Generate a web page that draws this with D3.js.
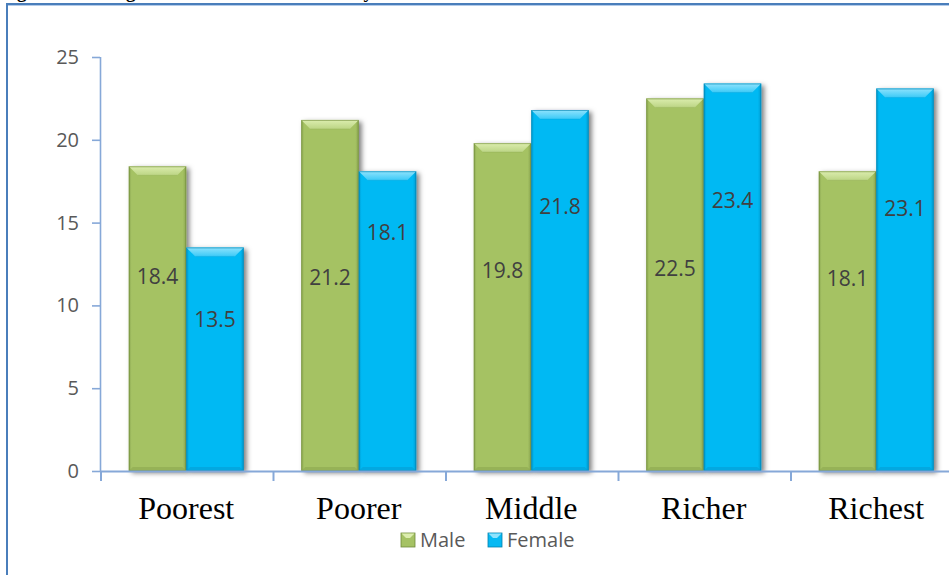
<!DOCTYPE html>
<html>
<head>
<meta charset="utf-8">
<script src="https://cdn.jsdelivr.net/npm/d3@7/dist/d3.min.js"></script>
<style>
  html, body { margin: 0; padding: 0; background: #fff; overflow: hidden; }
  svg { display: block; }
</style>
</head>
<body>
<svg id="chart" width="949" height="575"></svg>
<script>
// Wealth quintiles and values by sex
const categories = ["Poorest", "Poorer", "Middle", "Richer", "Richest"];
const seriesNames = ["Male", "Female"];
const maleValues = [18.4, 21.2, 19.8, 22.5, 18.1];
const femaleValues = [13.5, 18.1, 21.8, 23.4, 23.1];
const yTicks = [0, 5, 10, 15, 20, 25];
// Height (in value units) at which each data label sits inside its bar
const maleLabelAt = [11.75, 11.71, 12.14, 12.26, 11.65];
const femaleLabelAt = [9.15, 14.43, 16.0, 16.36, 15.88];

const titleText = "Figure 2: Average test scores of adolescents by wealth status";

const colors = {
  Male:   { base: "#a5c264", top1: "#dcedae", top2: "#bcd585", dark: "#8aa64e", edge: "#6f8a3a" },
  Female: { base: "#06b9f3", top1: "#8fe3fd", top2: "#3ccaf7", dark: "#059bd0", edge: "#0481ad" }
};

const svg = d3.select("#chart");
const defs = svg.append("defs");

const shadow = defs.append("filter").attr("id", "barShadow")
  .attr("x", "-20%").attr("y", "-10%").attr("width", "160%").attr("height", "130%");
shadow.append("feDropShadow")
  .attr("dx", 3).attr("dy", 2).attr("stdDeviation", 2.8)
  .attr("flood-color", "#000").attr("flood-opacity", 0.5);

seriesNames.forEach(s => {
  const g = defs.append("linearGradient").attr("id", "top-" + s)
    .attr("x1", 0).attr("y1", 0).attr("x2", 0).attr("y2", 1);
  g.append("stop").attr("offset", "0%").attr("stop-color", colors[s].top1);
  g.append("stop").attr("offset", "100%").attr("stop-color", colors[s].top2);
  const body = defs.append("linearGradient").attr("id", "body-" + s)
    .attr("x1", 0).attr("y1", 0).attr("x2", 1).attr("y2", 0);
  body.append("stop").attr("offset", "0%").attr("stop-color", colors[s].dark);
  body.append("stop").attr("offset", "5%").attr("stop-color", colors[s].base);
  body.append("stop").attr("offset", "94%").attr("stop-color", colors[s].base);
  body.append("stop").attr("offset", "100%").attr("stop-color", colors[s].dark);
});

// Title (sits above the visible area, only descenders peek through)
svg.append("text")
  .attr("x", 0).attr("y", -2.5)
  .attr("font-family", "'Liberation Serif', 'Times New Roman', serif")
  .attr("font-weight", "bold").attr("font-size", 19)
  .attr("fill", "#000")
  .text(titleText);

// Frame
svg.append("line").attr("x1", 6).attr("x2", 949).attr("y1", 4).attr("y2", 4)
  .attr("stroke", "#4a7ebb").attr("stroke-width", 2);
svg.append("line").attr("x1", 7).attr("x2", 949).attr("y1", 5.5).attr("y2", 5.5)
  .attr("stroke", "#b3cbe9").attr("stroke-width", 1);
svg.append("line").attr("x1", 7).attr("x2", 7).attr("y1", 3).attr("y2", 575)
  .attr("stroke", "#4a7ebb").attr("stroke-width", 2);

const margin = { left: 100, top: 57, bottom: 471 };
const bandStep = 172.5;
const x = d3.scaleBand().domain(categories)
  .range([margin.left, margin.left + bandStep * categories.length])
  .padding(0);
const xInner = d3.scaleBand().domain(seriesNames)
  .range([x.bandwidth() / 6, x.bandwidth() * 5 / 6]).padding(0);
const y = d3.scaleLinear().domain([0, 25]).range([margin.bottom, margin.top]);

const axisColor = "#86a8d8";
const sansFont = "'Open Sans', 'Liberation Sans', sans-serif";

// Y axis
const yAxis = svg.append("g").attr("transform", `translate(${margin.left},0)`)
  .call(d3.axisLeft(y).tickValues(yTicks).tickSize(8).tickPadding(13));
yAxis.select(".domain").attr("stroke", axisColor).attr("stroke-width", 1.6)
  .attr("d", `M0.5,${y(25)}V${y(0)}`);
yAxis.selectAll(".tick line").attr("stroke", axisColor).attr("stroke-width", 1.6);
yAxis.selectAll(".tick text")
  .attr("fill", "#595959").attr("font-family", sansFont).attr("font-size", 20);

// Bars
const data = categories.map((c, i) => ({
  category: c,
  values: [
    { series: "Male", value: maleValues[i], labelAt: maleLabelAt[i] },
    { series: "Female", value: femaleValues[i], labelAt: femaleLabelAt[i] }
  ]
}));

const groups = svg.append("g").selectAll("g").data(data).join("g")
  .attr("transform", d => `translate(${x(d.category)},0)`);

const bars = groups.selectAll("g.bar").data(d => d.values).join("g").attr("class", "bar");

bars.each(function(d) {
  const g = d3.select(this);
  const x0 = xInner(d.series), w = xInner.bandwidth();
  const x1 = x0 + w;
  const y0 = y(d.value), y1 = y(0);
  const c = colors[d.series];
  const b = 9;
  g.append("rect")
    .attr("x", x0).attr("y", y0).attr("width", w).attr("height", y1 - y0)
    .attr("fill", `url(#body-${d.series})`)
    .attr("filter", "url(#barShadow)");
  // top bevel
  g.append("path")
    .attr("d", `M${x0},${y0}L${x1},${y0}L${x1 - b},${y0 + b}L${x0 + b},${y0 + b}Z`)
    .attr("fill", `url(#top-${d.series})`);
  g.append("line")
    .attr("x1", x0 + b).attr("x2", x1 - b).attr("y1", y0 + b).attr("y2", y0 + b)
    .attr("stroke", c.dark).attr("stroke-opacity", 0.3).attr("stroke-width", 1);
  // bottom bevel
  g.append("path")
    .attr("d", `M${x0},${y1}L${x1},${y1}L${x1 - 4},${y1 - 4}L${x0 + 4},${y1 - 4}Z`)
    .attr("fill", c.dark).attr("fill-opacity", 0.55);
  // outline
  g.append("rect")
    .attr("x", x0 + 0.5).attr("y", y0 + 0.5).attr("width", w - 1).attr("height", y1 - y0 - 1)
    .attr("fill", "none").attr("stroke", c.edge).attr("stroke-opacity", 0.6).attr("stroke-width", 1);
  // value label
  g.append("text")
    .attr("x", x0 + w / 2).attr("y", y(d.labelAt))
    .attr("text-anchor", "middle").attr("dominant-baseline", "central")
    .attr("font-family", sansFont).attr("font-size", 21)
    .attr("fill", "#404040")
    .text(d3.format(".1f")(d.value));
});

// X axis
const xAxis = svg.append("g").attr("transform", `translate(0,${margin.bottom})`)
  .call(d3.axisBottom(x).tickSize(0).tickPadding(0).tickFormat(""));
xAxis.select(".domain").attr("stroke", axisColor).attr("stroke-width", 2)
  .attr("d", `M${margin.left},0.5H949`);
xAxis.selectAll(".tick").remove();
const bounds = d3.range(categories.length + 1).map(i => margin.left + i * x.step());
xAxis.selectAll("line.sep").data(bounds).join("line").attr("class", "sep")
  .attr("x1", d => d + 1).attr("x2", d => d + 1).attr("y1", 0).attr("y2", 10)
  .attr("stroke", axisColor).attr("stroke-width", 2);
xAxis.selectAll("text.cat").data(categories).join("text").attr("class", "cat")
  .attr("x", d => x(d) + x.bandwidth() / 2).attr("y", 48)
  .attr("text-anchor", "middle")
  .attr("font-family", "'Liberation Serif', 'Times New Roman', serif")
  .attr("font-size", 32).attr("fill", "#000")
  .text(d => d);

// Legend
const legendItems = [
  { name: "Male", x: 401 },
  { name: "Female", x: 488 }
];
const legend = svg.append("g");
legendItems.forEach(item => {
  const c = colors[item.name];
  const lg = legend.append("g").attr("transform", `translate(${item.x},533)`);
  lg.append("rect").attr("x", 0).attr("y", 0).attr("width", 14).attr("height", 14)
    .attr("fill", c.base).attr("stroke", c.edge).attr("stroke-width", 0.8);
  lg.append("path").attr("d", "M0.5,0.5L13.5,0.5L9,5L5,5Z").attr("fill", c.top1);
  lg.append("text").attr("x", 19).attr("y", 14)
    .attr("font-family", sansFont).attr("font-size", 20).attr("fill", "#595959")
    .text(item.name);
});
</script>
</body>
</html>
